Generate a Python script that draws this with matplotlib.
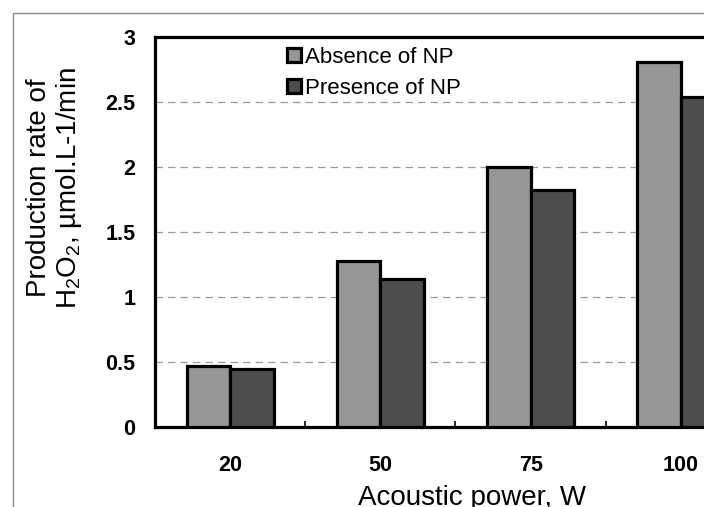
import matplotlib
matplotlib.use("Agg")
import matplotlib.pyplot as plt
from matplotlib.patches import Rectangle
import numpy as np

plt.rcParams["font.family"] = ["Liberation Sans", "DejaVu Sans"]
plt.rcParams["mathtext.default"] = "regular"

powers = ["20", "50", "75", "100"]
absence_np = [0.47, 1.28, 2.00, 2.81]
presence_np = [0.45, 1.14, 1.82, 2.54]
series_labels = ["Absence of NP", "Presence of NP"]
y_ticks = [0, 0.5, 1, 1.5, 2, 2.5, 3]
y_tick_labels = ["0", "0.5", "1", "1.5", "2", "2.5", "3"]

W, H = 704, 507
fig = plt.figure(figsize=(W / 100, H / 100), dpi=100)

# outer chart frame (cropped on right and bottom)
fig.patches.append(Rectangle((13 / W, -0.1), 1.2, 1 - 13 / H + 0.1,
                             transform=fig.transFigure, fill=False,
                             ec="#8c8c8c", lw=1.0))

# plot area runs past the right edge of the picture
ax = fig.add_axes([155 / W, 80 / H, 601 / W, 390 / H])

x = np.arange(len(powers))
bw = 0.29
ax.bar(x - bw / 2, absence_np, bw, color="#969696", edgecolor="black",
       linewidth=2.3, label=series_labels[0], zorder=3)
ax.bar(x + bw / 2, presence_np, bw, color="#4d4d4d", edgecolor="black",
       linewidth=2.3, label=series_labels[1], zorder=3)

ax.set_xlim(-0.5, len(powers) - 0.5)
ax.set_ylim(0, 3)
ax.set_yticks(y_ticks)
ax.set_yticklabels(y_tick_labels, fontsize=15.5, fontweight="bold")
ax.set_xticks(x)
ax.set_xticklabels(powers, fontsize=15.5, fontweight="bold")
ax.tick_params(axis="y", length=0, pad=14)
ax.tick_params(axis="x", which="major", length=0, pad=20)
ax.set_xticks(np.arange(0.5, len(powers) - 0.5, 1), minor=True)
ax.tick_params(axis="x", which="minor", direction="in", length=4, width=1.2)

ax.yaxis.grid(True, linestyle=(0, (6, 4)), color="#9a9a9a", linewidth=0.9, zorder=0)
for s in ax.spines.values():
    s.set_linewidth(2.3)

fig.text(55 / W, 1 - 188 / H, "Production rate of\nH$_2$O$_2$, µmol.L-1/min",
         rotation=90, fontsize=20, ha="center", va="center",
         multialignment="center", linespacing=1.05)
fig.text(472 / W, 1 - 505 / H, "Acoustic power, W", fontsize=20,
         ha="center", va="baseline")

ax.legend(loc="upper left", bbox_to_anchor=(0.2, 1.005), frameon=False,
          fontsize=16, handlelength=0.6, handleheight=0.6, handletextpad=0.2,
          labelspacing=0.45, borderaxespad=0.15)

fig.savefig("out.png", dpi=100)
